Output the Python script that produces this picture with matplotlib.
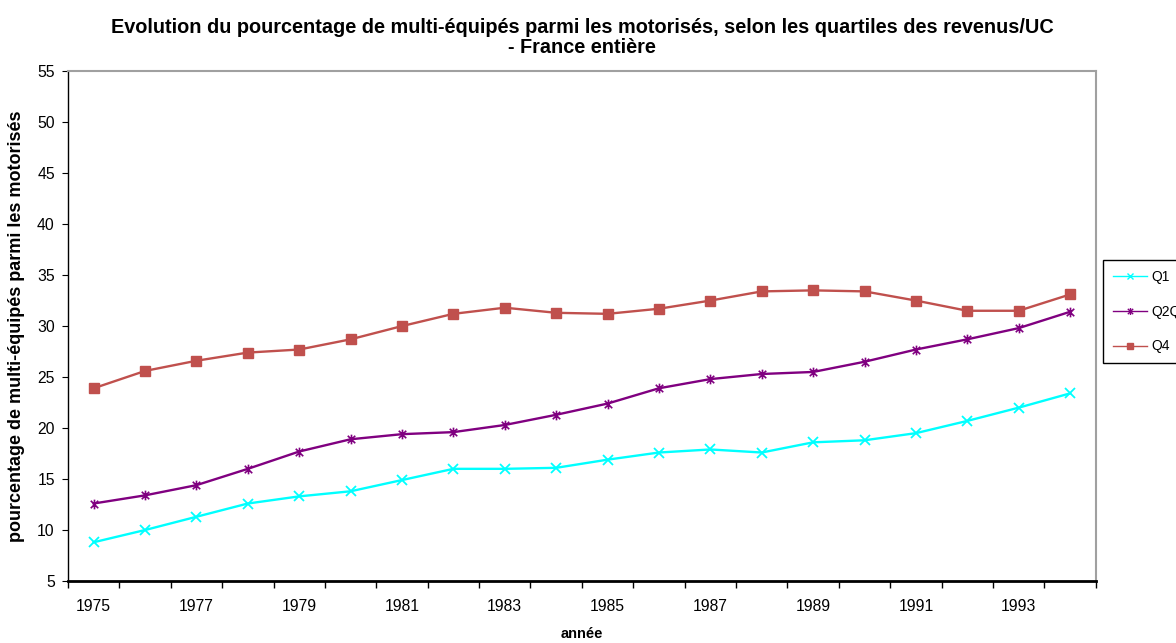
import matplotlib.pyplot as plt
from matplotlib.path import Path
from matplotlib.lines import Line2D

plt.rcParams['font.family'] = ['Liberation Sans', 'DejaVu Sans']

## data
years = list(range(1975, 1995))
q1 = [8.8, 10.0, 11.3, 12.6, 13.3, 13.8, 14.9, 16.0, 16.0, 16.1,
      16.9, 17.6, 17.9, 17.6, 18.6, 18.8, 19.5, 20.7, 22.0, 23.4]
q2q3 = [12.6, 13.4, 14.4, 16.0, 17.7, 18.9, 19.4, 19.6, 20.3, 21.3,
        22.4, 23.9, 24.8, 25.3, 25.5, 26.5, 27.7, 28.7, 29.8, 31.4]
q4 = [23.9, 25.6, 26.6, 27.4, 27.7, 28.7, 30.0, 31.2, 31.8, 31.3,
      31.2, 31.7, 32.5, 33.4, 33.5, 33.4, 32.5, 31.5, 31.5, 33.1]
labels = ['Q1', 'Q2Q3', 'Q4']
colors = ['#00FFFF', '#800080', '#C0504D']
year_labels = [str(y) for y in years[::2]]

## excel style star marker (x with a vertical bar)
star = Path([(-1, -1), (1, 1), (-1, 1), (1, -1), (0, -1.3), (0, 1.3)],
            [Path.MOVETO, Path.LINETO, Path.MOVETO, Path.LINETO, Path.MOVETO, Path.LINETO])
markers = ['x', star, 's']

fig = plt.figure(figsize=(11.76, 6.43), dpi=100)
ax = fig.add_axes([0.0578, 0.0964, 0.874, 0.793])

ax.plot(years, q1, color=colors[0], marker='x', markersize=6.5, markeredgewidth=1.3, linewidth=1.7)
ax.plot(years, q2q3, color=colors[1], marker=star, markersize=7, markeredgewidth=1.2, linewidth=1.7)
ax.plot(years, q4, color=colors[2], marker='s', markersize=7, linewidth=1.7)

ax.set_xlim(1974.5, 1994.5)
ax.set_ylim(5, 55)
ax.set_yticks(range(5, 56, 5))
ax.set_xticks(years[::2])
ax.set_xticklabels(year_labels)
ax.set_xticks([y - 0.5 for y in years] + [1994.5], minor=True)
ax.tick_params(axis='x', which='major', length=0, pad=13, labelsize=11.3)
ax.tick_params(axis='x', which='minor', length=5, width=1)
ax.tick_params(axis='y', length=4.5, pad=5, labelsize=11.3)

ax.spines['top'].set_color('#A0A0A0')
ax.spines['right'].set_color('#A0A0A0')
ax.spines['top'].set_linewidth(1.5)
ax.spines['right'].set_linewidth(1.5)
ax.spines['bottom'].set_linewidth(2)
ax.spines['left'].set_linewidth(1)

ax.set_title('Evolution du pourcentage de multi-équipés parmi les motorisés, selon les quartiles des revenus/UC\n- France entière',
             fontsize=14.3, fontweight='bold', pad=13, linespacing=1.1)
ax.set_xlabel('année', fontsize=10.5, fontweight='bold', labelpad=9)
ax.set_ylabel('pourcentage de multi-équipés parmi les motorisés', fontsize=13, fontweight='bold', labelpad=9)

## legend with thin lines and small markers, like the excel legend
handles = [Line2D([], [], color=c, marker=m, markersize=5, markeredgewidth=1, linewidth=1)
           for c, m in zip(colors, markers)]
leg = fig.legend(handles, labels, loc='upper left', bbox_to_anchor=(1103 / 1176, 1 - 260 / 643),
                 fontsize=10, fancybox=False, edgecolor='black', framealpha=1,
                 handlelength=2.5, handletextpad=0.3, labelspacing=1.5, borderpad=0.7, borderaxespad=0)
leg.get_frame().set_linewidth(1)

## save plot
plt.savefig('out.png', dpi=100)
